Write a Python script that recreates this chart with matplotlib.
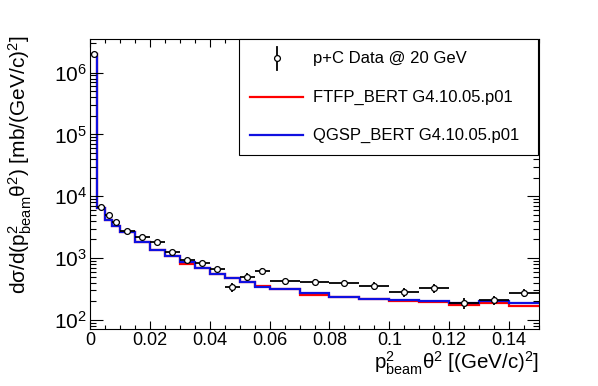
import numpy as np
import matplotlib
matplotlib.use('Agg')
import matplotlib.pyplot as plt
from matplotlib.lines import Line2D
from matplotlib.patches import Rectangle
from matplotlib.ticker import LogLocator, MultipleLocator, FuncFormatter, NullFormatter

plt.rcParams['font.family'] = ['Liberation Sans', 'DejaVu Sans']
plt.rcParams['mathtext.fontset'] = 'custom'
plt.rcParams['mathtext.rm'] = 'Liberation Sans'
plt.rcParams['mathtext.it'] = 'Liberation Sans:italic'
plt.rcParams['mathtext.default'] = 'regular'

# bin edges in p_beam^2 theta^2 [(GeV/c)^2]
edges = [0, 0.0025, 0.005, 0.0075, 0.01,
         0.015, 0.02, 0.025, 0.03, 0.035, 0.04, 0.045, 0.05, 0.055, 0.06,
         0.07, 0.08, 0.09, 0.10, 0.11, 0.12, 0.13, 0.14, 0.15]

# p+C data @ 20 GeV
data = [2.0e6, 6800, 4900, 3850, 2750, 2170, 1800, 1230, 914, 830, 665, 337,
        502, 624, 417, 407, 392, 358, 280, 325, 185, 210, 270]
data_err = [4e4, 150, 120, 100, 80, 70, 60, 60, 60, 60, 60, 52,
            70, 70, 45, 45, 45, 50, 50, 50, 37, 35, 40]

# FTFP_BERT G4.10.05.p01
ftfp = [2.0e6, 6340, 4200, 3270, 2610, 1820, 1340, 1062, 808, 687, 549, 478,
        407, 350, 317, 253, 238, 215, 205, 193, 174, 190, 169]

# QGSP_BERT G4.10.05.p01
qgsp = [2.0e6, 6340, 4200, 3270, 2610, 1820, 1366, 1062, 848, 687, 549, 473,
        407, 345, 317, 270, 238, 218, 210, 205, 190, 202, 190]

W, H = 598, 386
blue = '#1010e0'

fig = plt.figure(figsize=(W / 100, H / 100), dpi=100)
ax = fig.add_axes([90 / W, 1 - 329 / H, (539 - 90) / W, (329 - 38.5) / H])

e = np.array(edges)
centers = 0.5 * (e[:-1] + e[1:])
halfw = 0.5 * np.diff(e)

ax.stairs(ftfp, edges, color='red', lw=1.6, baseline=None)
ax.stairs(qgsp, edges, color=blue, lw=1.6, baseline=None)
ax.errorbar(centers, data, yerr=data_err, xerr=halfw, fmt='o', ms=4.2,
            mfc='white', mec='black', mew=0.9, color='black',
            elinewidth=1.3, capsize=0, zorder=5)

ax.set_yscale('log')
ax.set_xlim(0, 0.15)
ax.set_ylim(71, 3.57e6)

ax.xaxis.set_major_locator(MultipleLocator(0.02))
ax.xaxis.set_minor_locator(MultipleLocator(0.005))
ax.xaxis.set_major_formatter(FuncFormatter(lambda v, p: '0' if abs(v) < 1e-9 else f'{v:g}'))
ax.yaxis.set_major_locator(LogLocator(base=10, numticks=10))
ax.yaxis.set_minor_locator(LogLocator(base=10, subs=np.arange(2, 10), numticks=20))
ax.yaxis.set_minor_formatter(NullFormatter())

ax.tick_params(which='both', direction='in', top=True, right=True, width=0.8)
ax.tick_params(axis='x', which='major', length=6, labelsize=13, pad=2)
ax.tick_params(axis='x', which='minor', length=3)
ax.tick_params(axis='y', which='major', length=9, labelsize=15, pad=2)
ax.tick_params(axis='y', which='minor', length=4.5)
for s in ax.spines.values():
    s.set_linewidth(0.8)

# axis titles
fig.text(539 / W, 1 - 369 / H, r'$p^{2}_{beam}\theta^{2}$ [(GeV/c)$^{2}$]',
         ha='right', va='baseline', fontsize=14.8)
fig.text(20 / W, 1 - 35 / H,
         r'd$\sigma$/d($p^{2}_{beam}\theta^{2}$) [mb/(GeV/c)$^{2}$]',
         rotation=90, ha='center', va='top', fontsize=15)

# legend box
def fx(x):
    return x / W

def fy(y):
    return 1 - y / H

fig.add_artist(Rectangle((fx(239), fy(155)), fx(537.5) - fx(239), fy(38.5) - fy(155),
                         transform=fig.transFigure, fill=True, facecolor='white',
                         edgecolor='black', lw=0.8, zorder=10))
fig.add_artist(Line2D([fx(277), fx(277)], [fy(46.5), fy(69.5)], transform=fig.transFigure,
                      color='black', lw=1.3, zorder=11))
fig.add_artist(Line2D([fx(277)], [fy(58)], transform=fig.transFigure, marker='o', ms=4.2,
                      mfc='white', mec='black', mew=0.9, zorder=12))
fig.add_artist(Line2D([fx(250), fx(303)], [fy(97), fy(97)], transform=fig.transFigure,
                      color='red', lw=1.6, zorder=11))
fig.add_artist(Line2D([fx(250), fx(303)], [fy(135), fy(135)], transform=fig.transFigure,
                      color=blue, lw=1.6, zorder=11))
labels = ['p+C Data @ 20 GeV', 'FTFP_BERT G4.10.05.p01', 'QGSP_BERT G4.10.05.p01']
for lab, yy in zip(labels, [58, 97, 135]):
    fig.text(fx(313), fy(yy), lab, ha='left', va='center', fontsize=12, zorder=12)

fig.savefig('out.png', dpi=100)
